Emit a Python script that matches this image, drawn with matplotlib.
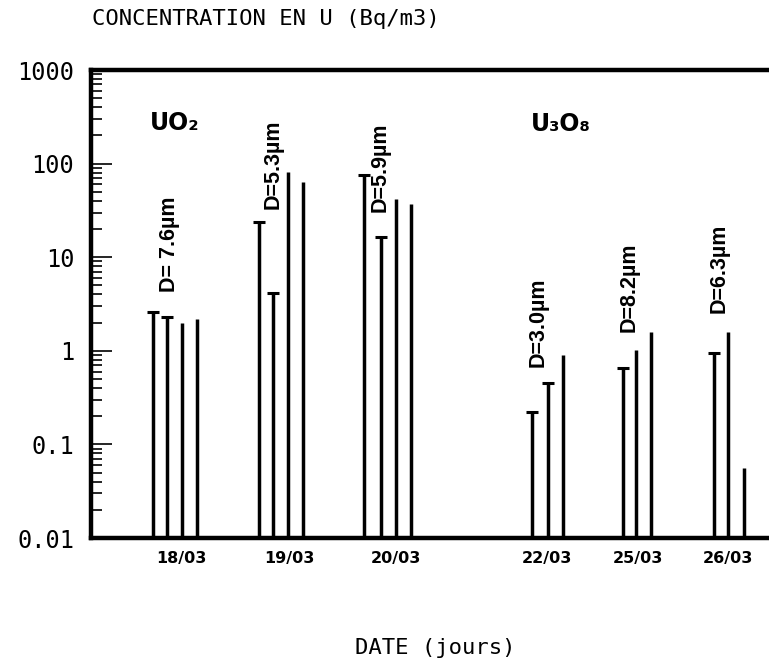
import matplotlib
matplotlib.use("Agg")
import matplotlib.pyplot as plt
from matplotlib.ticker import LogLocator, FixedLocator, NullFormatter

# ---- data ----
# bar positions along an arbitrary sampling axis (units)
x_1803 = [6.2, 7.6, 9.1, 10.6]
v_1803 = [2.6, 2.3, 2.0, 2.2]
c_1803 = [1, 1, 0, 0]

x_1903 = [16.8, 18.2, 19.7, 21.15]
v_1903 = [23.5, 4.1, 82.0, 63.0]
c_1903 = [1, 1, 0, 0]

x_2003 = [27.25, 28.9, 30.45, 31.95]
v_2003 = [75.0, 16.6, 42.0, 37.0]
c_2003 = [1, 1, 0, 0]

x_2203 = [44.0, 45.57, 47.07]
v_2203 = [0.22, 0.45, 0.90]
c_2203 = [1, 1, 0]

x_2503 = [53.07, 54.4, 55.93]
v_2503 = [0.65, 1.02, 1.57]
c_2503 = [1, 0, 0]

x_2603 = [62.13, 63.57, 65.17]
v_2603 = [0.95, 1.6, 0.056]
c_2603 = [1, 0, 0]

date_labels = ["18/03", "19/03", "20/03", "22/03", "25/03", "26/03"]
date_pos = [9.0, 19.8, 30.4, 45.5, 54.6, 63.6]

diam_labels = ["D= 7.6µm", "D=5.3µm", "D=5.9µm", "D=3.0µm", "D=8.2µm", "D=6.3µm"]
diam_x = [7.8, 18.2, 28.9, 44.6, 53.7, 62.7]
diam_y = [13.8, 99.0, 92.0, 2.0, 4.8, 7.7]

ytick_vals = [0.01, 0.1, 1, 10, 100, 1000]
ytick_text = ["0.01", "0.1", "1", "10", "100", "1000"]

# ---- figure ----
W, H = 769, 664
fig = plt.figure(figsize=(W / 100, H / 100), dpi=100)
ax = fig.add_axes([91 / W, 1 - 538 / H, 1.02 - 91 / W, (538 - 70) / H])
ax.set_yscale("log")
ax.set_ylim(0.01, 1000)
ax.set_xlim(0, 69.2)

groups = [(x_1803, v_1803, c_1803), (x_1903, v_1903, c_1903),
          (x_2003, v_2003, c_2003), (x_2203, v_2203, c_2203),
          (x_2503, v_2503, c_2503), (x_2603, v_2603, c_2603)]
for xs, vs, cs in groups:
    ax.vlines(xs, 0.01, vs, colors="black", linewidth=2.5)
    for xx, vv, cc in zip(xs, vs, cs):
        if cc:
            ax.plot([xx], [vv], marker="_", markersize=9, markeredgewidth=2.2,
                    color="black")

mono = "DejaVu Sans Mono"
ax.yaxis.set_major_locator(FixedLocator(ytick_vals))
ax.set_yticklabels(ytick_text, fontfamily=mono, fontsize=17)
ax.yaxis.set_minor_locator(LogLocator(base=10, subs=[2, 3, 4, 5, 6, 7, 8, 9], numticks=20))
ax.yaxis.set_minor_formatter(NullFormatter())
ax.tick_params(axis="y", which="major", direction="in", length=15, width=1.2, pad=12)
ax.tick_params(axis="y", which="minor", direction="in", length=8, width=1.2)

ax.set_xticks(date_pos)
ax.set_xticklabels(date_labels, fontweight="bold", fontsize=11.5, fontfamily="DejaVu Sans")
ax.tick_params(axis="x", which="major", length=0, pad=9)

for s in ["left", "top", "bottom"]:
    ax.spines[s].set_linewidth(3.2)
ax.spines["right"].set_visible(False)

for t, xx, yy in zip(diam_labels, diam_x, diam_y):
    ax.text(xx, yy, t, rotation=90, ha="center", va="center", fontsize=15.5,
            fontweight="bold", fontfamily="Liberation Sans")

ax.text(8.4, 270, "UO₂", fontsize=17, fontweight="bold", ha="center", va="center")
ax.text(46.9, 265, "U₃O₈", fontsize=17, fontweight="bold", ha="center", va="center")

fig.text(266 / W, 1 - 19 / H, "CONCENTRATION EN U (Bq/m3)", fontfamily=mono,
         fontsize=16, ha="center", va="center")
fig.text(435 / W, 1 - 648 / H, "DATE (jours)", fontfamily=mono,
         fontsize=16, ha="center", va="center")

fig.savefig("out.png", dpi=100)
